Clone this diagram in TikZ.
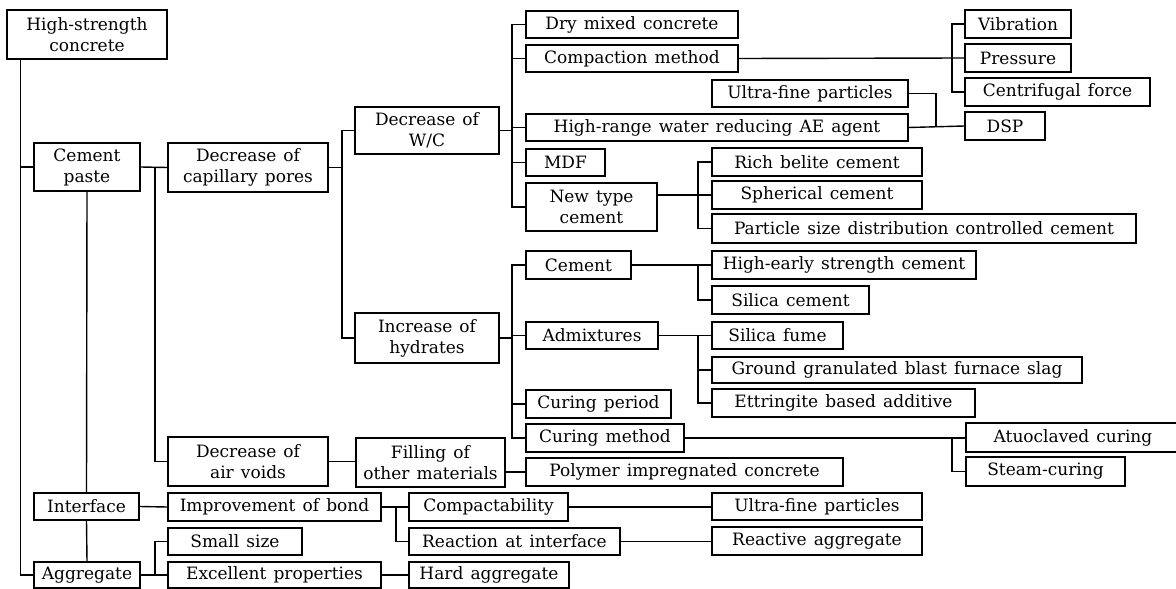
\documentclass[tikz,border=0pt]{standalone}
\usepackage{fontspec}
\setmainfont{DejaVu Serif}
\newcommand\fs{\fontsize{17}{21}\selectfont\spaceskip=0.42em\relax}
\tikzset{
  bx/.style={draw, line width=1.4pt, inner sep=0pt, align=center, font=\fs},
  ln/.style={line width=1.4pt},
}
\newcommand\Bx[6]{\node[bx, minimum width={(#4-#2)*1pt}, minimum height={(#5-#3)*1pt}] (#1) at ({(#2+#4)/2},{(#3+#5)/2}) {#6};}
\begin{document}
\begin{tikzpicture}[x=1pt,y=-1pt]
\useasboundingbox (0,0) rectangle (1176,589);
% column 1
\Bx{hsc}{7}{10}{167}{59}{High-strength\\concrete}
\Bx{cp}{34}{143}{140}{191}{Cement\\paste}
\Bx{int}{34}{493}{139}{520}{Interface}
\Bx{agg}{34}{562}{140}{588}{Aggregate}
% column 2
\Bx{dcp}{168}{143}{328}{192}{Decrease of\\capillary pores}
\Bx{dav}{168}{437}{328}{486}{Decrease of\\air voids}
\Bx{iob}{168}{493}{381}{521}{Improvement of bond}
\Bx{ss}{168}{528}{302}{555}{Small size}
\Bx{exc}{168}{562}{381}{588}{Excellent properties}
% column 3
\Bx{dwc}{355}{107}{499}{154}{Decrease of\\W/C}
\Bx{ih}{355}{313}{499}{363}{Increase of\\hydrates}
\Bx{fil}{356}{438}{505}{487}{Filling of\\other materials}
\Bx{comp}{409}{493}{568}{521}{Compactability}
\Bx{rai}{409}{528}{620}{555}{Reaction at interface}
\Bx{hag}{409}{562}{569}{588}{Hard aggregate}
% column 4
\Bx{dmc}{526}{11}{738}{38}{Dry mixed concrete}
\Bx{cm}{526}{45}{738}{72}{Compaction method}
\Bx{hr}{526}{114}{908}{141}{High-range water reducing AE agent}
\Bx{mdf}{526}{149}{605}{176}{MDF}
\Bx{ntc}{526}{183}{657}{231}{New type\\cement}
\Bx{cem}{526}{251}{631}{279}{Cement}
\Bx{adm}{526}{322}{658}{349}{Admixtures}
\Bx{cper}{526}{390}{671}{418}{Curing period}
\Bx{cmeth}{526}{424}{684}{452}{Curing method}
\Bx{pic}{526}{458}{843}{486}{Polymer impregnated concrete}
% column 5
\Bx{uf}{712}{80}{908}{107}{Ultra-fine particles}
\Bx{rb}{712}{148}{922}{176}{Rich belite cement}
\Bx{sph}{712}{181}{922}{209}{Spherical cement}
\Bx{ps}{712}{214}{1136}{243}{Particle size distribution controlled cement}
\Bx{hes}{712}{251}{976}{279}{High-early strength cement}
\Bx{sc}{712}{286}{869}{314}{Silica cement}
\Bx{sf}{712}{322}{843}{349}{Silica fume}
\Bx{gg}{712}{357}{1082}{383}{Ground granulated blast furnace slag}
\Bx{eba}{712}{389}{975}{417}{Ettringite based additive}
\Bx{ufb}{712}{493}{922}{520}{Ultra-fine particles}
\Bx{ra}{712}{527}{922}{555}{Reactive aggregate}
% column 6
\Bx{vib}{965}{10}{1071}{38}{Vibration}
\Bx{pr}{965}{44}{1071}{72}{Pressure}
\Bx{cf}{965}{78}{1150}{106}{Centrifugal force}
\Bx{dsp}{965}{112}{1045}{140}{DSP}
\Bx{ac}{966}{423}{1180}{452}{Atuoclaved curing}
\Bx{stc}{966}{457}{1125}{486}{Steam-curing}
% junction x positions
\coordinate (t) at ([xshift=14pt]hsc.south west);
\coordinate (v1) at (155,167);
\coordinate (v2) at (342,0);
\coordinate (v3) at (512,0);
\coordinate (v4) at (952,0);
\coordinate (v5) at (936,0);
\coordinate (v6) at (698,0);
\coordinate (v7) at (396,0);
\begin{scope}[ln]
% trunk
\draw (t) |- (agg.west);
\draw (t |- cp.west) -- (cp.west);
\draw (cp.south) -- (int.north);
\draw (int.south) -- (agg.north);
% cement paste
\draw (cp.east) -- (dcp.west);
\draw (v1) |- (dav.west);
\draw (dcp.east) -- (dcp.east -| v2);
\draw (dwc.west) -- (dwc.west -| v2) -- (ih.west -| v2) -- (ih.west);
% decrease of W/C
\draw (dwc.east) -- (dwc.east -| v3);
\draw (dmc.west) -- (dmc.west -| v3) -- (ntc.west -| v3) -- (ntc.west);
\draw (v3 |- cm.west) -- (cm.west);
\draw (v3 |- hr.west) -- (hr.west);
\draw (v3 |- mdf.west) -- (mdf.west);
% compaction
\draw (cm.east) -- (pr.west);
\draw (vib.west) -- (vib.west -| v4) -- (cf.west -| v4) -- (cf.west);
% DSP
\draw (uf.east) -| (v5 |- dsp.west);
\draw (hr.east) -- (dsp.west);
% new type cement
\draw (ntc.east |- sph.west) -- (sph.west);
\draw (rb.west) -- (rb.west -| v6) -- (ps.west -| v6) -- (ps.west);
% increase of hydrates
\draw (ih.east) -- (ih.east -| v3);
\draw (cem.west) -- (cem.west -| v3) -- (cmeth.west -| v3) -- (cmeth.west);
\draw (v3 |- adm.west) -- (adm.west);
\draw (v3 |- cper.west) -- (cper.west);
\draw (cem.east) -- (hes.west);
\draw (v6 |- hes.west) |- (sc.west);
\draw (adm.east) -- (sf.west);
\draw (v6 |- sf.west) |- (eba.west);
\draw (v6 |- gg.west) -- (gg.west);
\draw (cmeth.east) -- (cmeth.east -| ac.west);
\draw (v4 |- cmeth.east) |- (stc.west);
% air voids
\draw (dav.east) -- (dav.east -| fil.west);
\draw (fil.east |- pic.west) -- (pic.west);
% interface
\draw (int.east) -- (iob.west);
\draw (iob.east) -- (iob.east -| comp.west);
\draw (v7 |- iob.east) |- (rai.west);
\draw (comp.east) -- (comp.east -| ufb.west);
\draw (rai.east) -- (rai.east -| ra.west);
% aggregate
\draw (agg.east) -- (exc.west);
\draw (v1 |- exc.west) |- (ss.west);
\draw (exc.east) -- (hag.west);
\end{scope}
\end{tikzpicture}
\end{document}
